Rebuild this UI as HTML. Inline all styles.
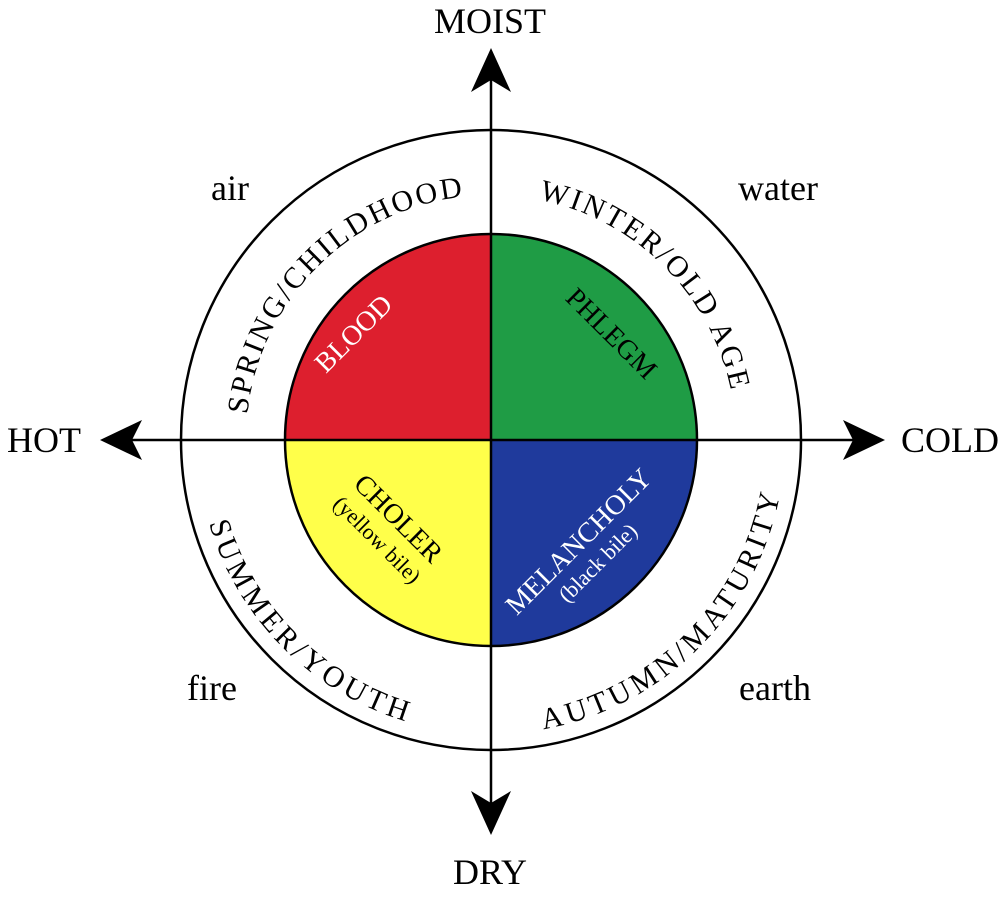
<!DOCTYPE html>
<html><head><style>
html,body{margin:0;padding:0;background:#fff;}
svg{display:block;}
text{font-family:"Liberation Serif",serif;}
</style></head><body>
<svg width="1000" height="905" viewBox="0 0 1000 905" xmlns="http://www.w3.org/2000/svg">
<defs>
<path id="ul" d="M 246 440 A 245 245 0 0 1 491 195"/>
<path id="ur" d="M 491 195 A 245 245 0 0 1 736 440"/>
<path id="ll" d="M 218 440 A 273 273 0 0 0 491 713"/>
<path id="lr" d="M 491 713 A 273 273 0 0 0 764 440"/>
</defs>
<circle cx="491" cy="440" r="310" fill="none" stroke="#000" stroke-width="2.5"/>
<path d="M491 440 L285 440 A206 206 0 0 1 491 234 Z" fill="#dd1f2e"/>
<path d="M491 440 L491 234 A206 206 0 0 1 697 440 Z" fill="#1f9c45"/>
<path d="M491 440 L285 440 A206 206 0 0 0 491 646 Z" fill="#ffff4a"/>
<path d="M491 440 L491 646 A206 206 0 0 0 697 440 Z" fill="#1f3a9c"/>
<circle cx="491" cy="440" r="206" fill="none" stroke="#000" stroke-width="2.5"/>
<line x1="491" y1="70" x2="491" y2="810" stroke="#000" stroke-width="2.5"/>
<line x1="120" y1="440" x2="865" y2="440" stroke="#000" stroke-width="2.5"/>
<polygon points="491,48 471,92 491,80 511,92" fill="#000"/>
<polygon points="491,835 471,791 491,803 511,791" fill="#000"/>
<polygon points="100,440 142,420 132,440 142,460" fill="#000"/>
<polygon points="885,440 843,420 853,440 843,460" fill="#000"/>
<g font-size="36" text-anchor="middle">
<text x="490" y="33">MOIST</text>
<text x="490" y="884">DRY</text>
<text x="44" y="452">HOT</text>
<text x="950" y="452">COLD</text>
<text x="230" y="200">air</text>
<text x="778" y="200">water</text>
<text x="212" y="700">fire</text>
<text x="775" y="700">earth</text>
</g>
<g font-size="30" letter-spacing="2.5">
<text><textPath href="#ul" startOffset="50%" text-anchor="middle">SPRING/CHILDHOOD</textPath></text>
<text><textPath href="#ur" startOffset="50%" text-anchor="middle">WINTER/OLD AGE</textPath></text>
<text dominant-baseline="hanging"><textPath href="#ll" startOffset="50%" text-anchor="middle">SUMMER/YOUTH</textPath></text>
<text dominant-baseline="hanging"><textPath href="#lr" startOffset="50%" text-anchor="middle">AUTUMN/MATURITY</textPath></text>
</g>
<g font-size="28" text-anchor="middle">
<text transform="translate(360,340) rotate(-45)" fill="#fff">BLOOD</text>
<text transform="translate(605,340) rotate(45)" fill="#000">PHLEGM</text>
<text transform="translate(392,525) rotate(45)" fill="#000">CHOLER</text>
<text transform="translate(372,545) rotate(45)" fill="#000" font-size="22">(yellow bile)</text>
<text transform="translate(585,548) rotate(-45)" fill="#fff">MELANCHOLY</text>
<text transform="translate(603,568) rotate(-45)" fill="#fff" font-size="22">(black bile)</text>
</g>
</svg>
</body></html>
